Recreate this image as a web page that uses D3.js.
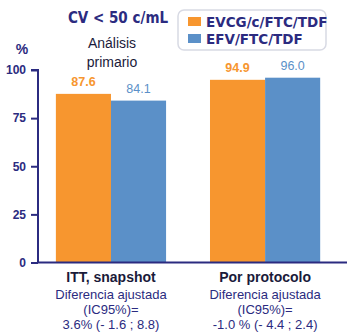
<!DOCTYPE html>
<html>
<head>
<meta charset="utf-8">
<script src="https://cdn.jsdelivr.net/npm/d3@7"></script>
<style>
  body { margin: 0; background: #fff; }
  svg { display: block; }
</style>
</head>
<body>
<div id="chart"></div>
<script>
// data
var groups = ["ITT, snapshot", "Por protocolo"];
var seriesNames = ["EVCG/c/FTC/TDF", "EFV/FTC/TDF"];
var evcgValues = [87.6, 94.9];
var efvValues = [84.1, 96.0];
var labelValues = ["87.6", "84.1", "94.9", "96.0"];
var yTicks = [0, 25, 50, 75, 100];
var groupNotes = [
    ["Diferencia ajustada", "(IC95%)=", "3.6% (- 1.6 ; 8.8)"],
    ["Diferencia ajustada", "(IC95%)=", "-1.0 % (- 4.4 ; 2.4)"]
];

var width = 352, height = 336;
var navy = "#2b2b80";
var colors = ["#f7962f", "#5b90c8"];

var svg = d3.select("#chart").append("svg").attr("width", width).attr("height", height);

var y = d3.scaleLinear().domain([0, 100]).range([262.5, 70]);
var x0 = d3.scaleBand().domain(groups).range([38, 347]).paddingInner(0.285).paddingOuter(0.145).align(0.4);
var x1 = d3.scaleBand().domain(seriesNames).range([0, x0.bandwidth()]);

// bars
var rows = groups.map(function (g, i) {
    return { group: g, values: [evcgValues[i], efvValues[i]] };
});

var bar = svg.selectAll("g.group").data(rows).enter().append("g")
    .attr("class", "group")
    .attr("transform", function (d) { return "translate(" + x0(d.group) + ",0)"; });

bar.selectAll("rect").data(function (d) { return d.values; }).enter().append("rect")
    .attr("x", function (d, i) { return x1(seriesNames[i]); })
    .attr("y", function (d) { return y(d); })
    .attr("width", x1.bandwidth())
    .attr("height", function (d) { return y(0) - y(d); })
    .attr("fill", function (d, i) { return colors[i]; });

bar.selectAll("text.val").data(function (d, gi) {
    return d.values.map(function (v, i) { return { v: v, i: i, label: labelValues[gi * 2 + i] }; });
}).enter().append("text")
    .attr("class", "val")
    .attr("x", function (d) { return x1(seriesNames[d.i]) + x1.bandwidth() / 2; })
    .attr("y", function (d) { return y(d.v) - 8; })
    .attr("text-anchor", "middle")
    .attr("font-family", "Liberation Sans, Arial, sans-serif")
    .attr("font-size", 12.5)
    .attr("font-weight", function (d) { return d.i === 0 ? "bold" : "normal"; })
    .attr("fill", function (d) { return colors[d.i]; })
    .text(function (d) { return d.label; });

// y axis
var yAxis = d3.axisLeft(y).tickValues(yTicks).tickSize(7).tickPadding(5);
var yg = svg.append("g").attr("transform", "translate(38,0)").call(yAxis);
yg.select(".domain").attr("stroke", navy).attr("stroke-width", 2).attr("d", "M-7,70H0V263");
yg.selectAll(".tick line").attr("stroke", navy).attr("stroke-width", 2);
yg.selectAll(".tick text").attr("fill", navy).attr("font-size", 12).attr("font-weight", "bold")
    .attr("font-family", "Liberation Sans, Arial, sans-serif");

// x baseline
svg.append("line").attr("x1", 37).attr("x2", 347).attr("y1", y(0)).attr("y2", y(0))
    .attr("stroke", navy).attr("stroke-width", 2);

svg.append("text").attr("x", 22).attr("y", 54).attr("text-anchor", "middle")
    .attr("font-family", "Liberation Sans, Arial, sans-serif").attr("font-size", 14)
    .attr("font-weight", "bold").attr("fill", navy).text("%");

// titles
svg.append("text").attr("x", 118).attr("y", 23).attr("text-anchor", "middle")
    .attr("font-family", "DejaVu Sans Condensed, DejaVu Sans, sans-serif").attr("font-size", 15)
    .attr("font-weight", "bold").attr("fill", navy).text("CV < 50 c/mL");

svg.selectAll("text.sub").data(["Análisis", "primario"]).enter().append("text")
    .attr("class", "sub")
    .attr("x", 112).attr("y", function (d, i) { return 48 + i * 19; })
    .attr("text-anchor", "middle")
    .attr("font-family", "Liberation Sans, Arial, sans-serif").attr("font-size", 14)
    .attr("fill", "#1a1a3a").text(String);

// legend
var leg = svg.append("g");
leg.append("rect").attr("x", 178).attr("y", 10).attr("width", 148).attr("height", 40).attr("rx", 6)
    .attr("fill", "#fff").attr("stroke", "#d8dae4").attr("stroke-width", 1.5);
var item = leg.selectAll("g.item").data(seriesNames).enter().append("g")
    .attr("class", "item")
    .attr("transform", function (d, i) { return "translate(188," + (17 + i * 17) + ")"; });
item.append("rect").attr("width", 13).attr("height", 9).attr("fill", function (d, i) { return colors[i]; });
item.append("text").attr("x", 18).attr("y", 9.5)
    .attr("font-family", "DejaVu Sans, sans-serif").attr("font-size", 13.5)
    .attr("font-weight", "bold").attr("fill", navy).text(String);

// group labels
var lab = svg.selectAll("g.lab").data(groups).enter().append("g")
    .attr("class", "lab")
    .attr("transform", function (d) { return "translate(" + (x0(d) + x0.bandwidth() / 2) + ",0)"; });
lab.append("text").attr("y", 282).attr("text-anchor", "middle")
    .attr("font-family", "Liberation Sans, Arial, sans-serif").attr("font-size", 14)
    .attr("font-weight", "bold").attr("fill", "#1a1a3a").text(String);
lab.selectAll("text.note").data(function (d, i) { return groupNotes[i]; }).enter().append("text")
    .attr("class", "note")
    .attr("y", function (d, i) { return 299 + i * 15; })
    .attr("text-anchor", "middle")
    .attr("font-family", "Liberation Sans, Arial, sans-serif").attr("font-size", 13)
    .attr("fill", navy).text(String);
</script>
</body>
</html>
